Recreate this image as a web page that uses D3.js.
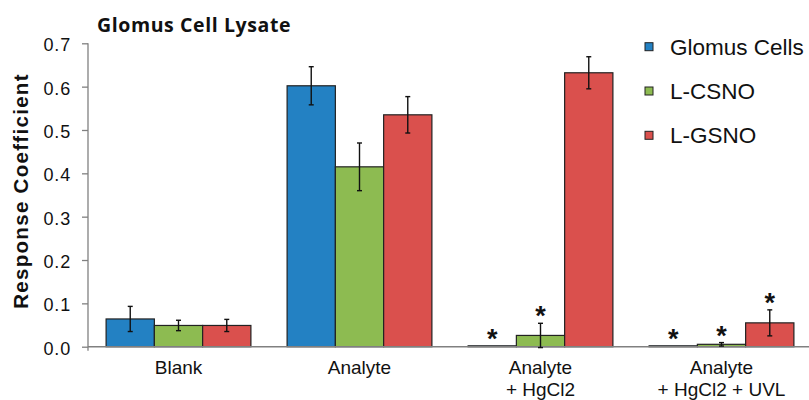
<!DOCTYPE html>
<html><head><meta charset="utf-8">
<script src="https://cdn.jsdelivr.net/npm/d3@7"></script>
<style>body{margin:0;background:#fff}svg{display:block}</style>
</head><body>
<svg id="c" width="809" height="400"></svg>
<script>
const categories = [["Blank"], ["Analyte"], ["Analyte", "+ HgCl2"], ["Analyte", "+ HgCl2 + UVL"]];
const seriesNames = ["Glomus Cells", "L-CSNO", "L-GSNO"];
const seriesColors = ["#2381C3", "#8DBB51", "#DA504D"];
const glomusCells = [0.064, 0.602, 0.002, 0.002];
const glomusErr   = [0.029, 0.044, 0.0, 0.0];
const lCSNO       = [0.049, 0.415, 0.026, 0.0055];
const lCSNOErr    = [0.012, 0.055, 0.028, 0.004];
const lGSNO       = [0.049, 0.535, 0.632, 0.055];
const lGSNOErr    = [0.014, 0.042, 0.037, 0.030];
const significant = [[false,false,true,true],[false,false,true,true],[false,false,false,true]];
const yTicks = [0, 0.1, 0.2, 0.3, 0.4, 0.5, 0.6, 0.7];

const values = [glomusCells, lCSNO, lGSNO];
const errs = [glomusErr, lCSNOErr, lGSNOErr];

const svg = d3.select("#c");
const mLeft = 88, mRight = 812, mTop = 43.3, mBottom = 346.7;
const x = d3.scaleBand().domain(d3.range(categories.length)).range([mLeft, mRight]).paddingInner(0.2).paddingOuter(0.1);
const xs = d3.scaleBand().domain(d3.range(seriesNames.length)).range([0, x.bandwidth()]);
const y = d3.scaleLinear().domain([0, 0.7]).range([mBottom, mTop]);
const font = "Liberation Sans, Arial, sans-serif";

// y axis
const yAxis = d3.axisLeft(y).tickValues(yTicks).tickFormat(d3.format(".1f")).tickSize(6).tickPadding(11);
const gy = svg.append("g").attr("transform", `translate(${mLeft},0)`).call(yAxis);
gy.select(".domain").attr("stroke", "#808080").attr("stroke-width", 1.3).attr("d", `M0,${mTop}V${mBottom+4}`);
gy.selectAll(".tick line").attr("stroke", "#808080").attr("stroke-width", 1.3);
gy.selectAll(".tick text").attr("font-family", font).attr("font-size", 18).attr("letter-spacing", 0.8)
  .attr("dy", "0.42em").attr("fill", "#111");

// bars
values.forEach((vals, s) => {
  const g = svg.append("g");
  g.selectAll("rect").data(vals).join("rect")
    .attr("x", (d, i) => x(i) + xs(s))
    .attr("y", d => y(d))
    .attr("width", xs.bandwidth())
    .attr("height", d => y(0) - y(d))
    .attr("fill", seriesColors[s])
    .attr("stroke", "#222").attr("stroke-width", 1.2);
});

// x axis line
svg.append("line").attr("x1", mLeft).attr("x2", 809).attr("y1", y(0)).attr("y2", y(0))
  .attr("stroke", "#808080").attr("stroke-width", 1.5);

// error bars
values.forEach((vals, s) => {
  vals.forEach((v, i) => {
    const e = errs[s][i];
    if (e <= 0) return;
    const cx = x(i) + xs(s) + xs.bandwidth() / 2;
    const g = svg.append("g").attr("stroke", "#111").attr("stroke-width", 1.4);
    g.append("line").attr("x1", cx).attr("x2", cx).attr("y1", y(v + e)).attr("y2", y(v - e));
    [v + e, v - e].forEach(t => g.append("line").attr("x1", cx - 2.5).attr("x2", cx + 2.5).attr("y1", y(t)).attr("y2", y(t)));
  });
});

// asterisks
values.forEach((vals, s) => {
  vals.forEach((v, i) => {
    if (!significant[s][i]) return;
    const cx = x(i) + xs(s) + xs.bandwidth() / 2;
    svg.append("text").attr("x", cx).attr("y", y(v + errs[s][i]) + 2)
      .attr("text-anchor", "middle").attr("font-family", font).attr("font-weight", "bold").attr("font-size", 27)
      .attr("fill", "#111").text("*");
  });
});

// category labels
categories.forEach((lines, i) => {
  const cx = x(i) + x.bandwidth() / 2;
  lines.forEach((t, k) => {
    svg.append("text").attr("x", cx).attr("y", 373.5 + k * 22)
      .attr("text-anchor", "middle").attr("font-family", font).attr("font-size", 19)
      .attr("fill", "#111").text(t);
  });
});

// y label
svg.append("text").attr("transform", `translate(27.5,${191}) rotate(-90)`)
  .attr("text-anchor", "middle").attr("font-family", font).attr("font-weight", "bold")
  .attr("font-size", 20.5).attr("letter-spacing", 1.3).attr("fill", "#111").text("Response Coefficient");

// title
svg.append("text").attr("x", 97).attr("y", 31.5).attr("font-family", "'Open Sans', Lato, sans-serif")
  .attr("font-weight", "bold").attr("font-size", 19.5).attr("letter-spacing", 0.6).attr("fill", "#111").text("Glomus Cell Lysate");

// legend
seriesNames.forEach((n, s) => {
  const cy = 46.7 + s * 44.3;
  svg.append("rect").attr("x", 645).attr("y", cy - 4).attr("width", 8).attr("height", 8)
    .attr("fill", seriesColors[s]).attr("stroke", "#222").attr("stroke-width", 1);
  svg.append("text").attr("x", 670).attr("y", cy + 8).attr("font-family", font)
    .attr("font-size", 22.5).attr("fill", "#111").text(n);
});
</script>
</body></html>
